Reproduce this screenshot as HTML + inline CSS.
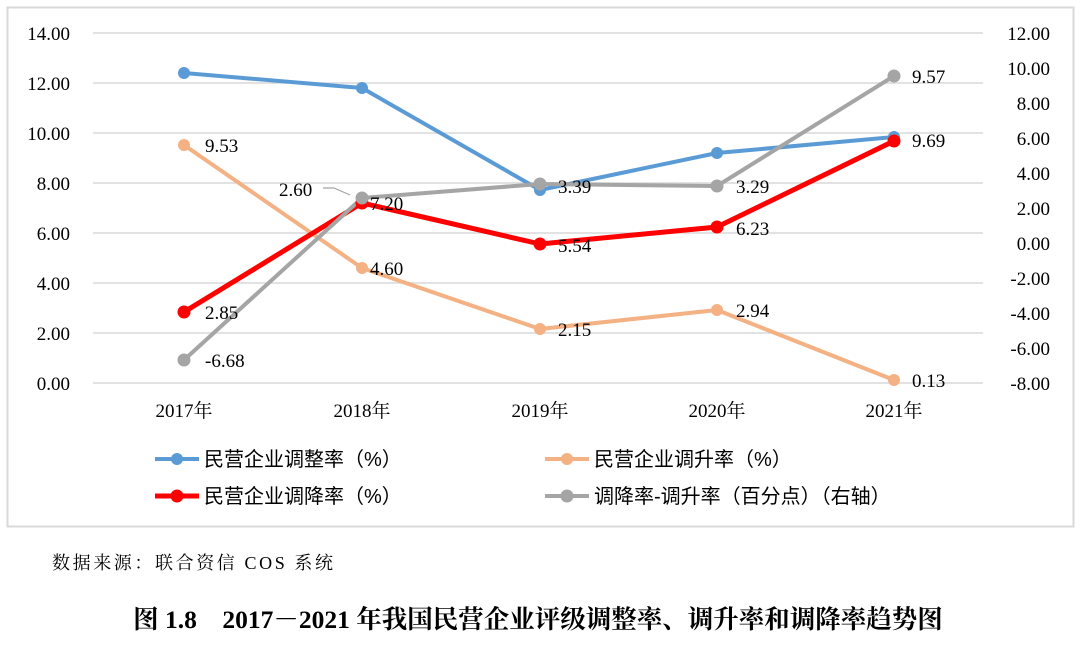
<!DOCTYPE html><html><head><meta charset="utf-8"><style>body{margin:0;background:#fff;width:1080px;height:640px;overflow:hidden}</style></head><body>
<svg width="1080" height="640" xmlns="http://www.w3.org/2000/svg" font-family="'Liberation Serif','Noto Serif CJK SC',serif">
<rect x="7.5" y="7.5" width="1066" height="519" fill="#fff" stroke="#d9d9d9" stroke-width="2"/>
<g stroke="#d9d9d9" stroke-width="1.5">
<line x1="93" x2="983" y1="33" y2="33"/><line x1="93" x2="983" y1="83" y2="83"/><line x1="93" x2="983" y1="133" y2="133"/><line x1="93" x2="983" y1="183" y2="183"/><line x1="93" x2="983" y1="233" y2="233"/><line x1="93" x2="983" y1="283" y2="283"/><line x1="93" x2="983" y1="333" y2="333"/><line x1="93" x2="983" y1="383" y2="383"/>
</g>
<g font-size="19" fill="#000" text-anchor="end">
<text x="70" y="40">14.00</text><text x="70" y="90">12.00</text><text x="70" y="140">10.00</text><text x="70" y="190">8.00</text><text x="70" y="240">6.00</text><text x="70" y="290">4.00</text><text x="70" y="340">2.00</text><text x="70" y="390">0.00</text>
</g>
<g font-size="19" fill="#000" text-anchor="end">
<text x="1050" y="40">12.00</text><text x="1050" y="75">10.00</text><text x="1050" y="110">8.00</text><text x="1050" y="145">6.00</text><text x="1050" y="180">4.00</text><text x="1050" y="215">2.00</text><text x="1050" y="250">0.00</text><text x="1050" y="285">-2.00</text><text x="1050" y="320">-4.00</text><text x="1050" y="355">-6.00</text><text x="1050" y="390">-8.00</text>
</g>
<g font-size="19" text-anchor="middle"><text x="184" y="417">2017年</text><text x="362" y="417">2018年</text><text x="540" y="417">2019年</text><text x="717" y="417">2020年</text><text x="894" y="417">2021年</text></g>
<g stroke-width="4" fill="none" stroke-linejoin="round">
<polyline stroke="#5b9bd5" points="184,73 362,88 540,190 717,153 894,137"/>
<polyline stroke="#f4b183" points="184,145 362,268 540,329 717,310 894,380"/>
<polyline stroke="#ff0000" stroke-width="5" points="184,312 362,203 540,244 717,227 894,141"/>
<polyline stroke="#a5a5a5" points="184,360 362,198 540,184 717,186 894,76"/>
</g>
<g fill="#5b9bd5"><circle cx="184" cy="73" r="6"/><circle cx="362" cy="88" r="6"/><circle cx="540" cy="190" r="6"/><circle cx="717" cy="153" r="6"/><circle cx="894" cy="137" r="6"/></g>
<g fill="#f4b183"><circle cx="184" cy="145" r="6"/><circle cx="362" cy="268" r="6"/><circle cx="540" cy="329" r="6"/><circle cx="717" cy="310" r="6"/><circle cx="894" cy="380" r="6"/></g>
<g fill="#ff0000"><circle cx="184" cy="312" r="6.5"/><circle cx="362" cy="203" r="6.5"/><circle cx="540" cy="244" r="6.5"/><circle cx="717" cy="227" r="6.5"/><circle cx="894" cy="141" r="6.5"/></g>
<g fill="#a5a5a5"><circle cx="184" cy="360" r="6.5"/><circle cx="362" cy="198" r="6.5"/><circle cx="540" cy="184" r="6.5"/><circle cx="717" cy="186" r="6.5"/><circle cx="894" cy="76" r="6.5"/></g>
<polyline points="323,188 334,188 350,195" stroke="#a5a5a5" stroke-width="1.2" fill="none"/>
<g font-size="19" fill="#000">
<text x="205" y="152">9.53</text><text x="205" y="319">2.85</text><text x="205" y="367">-6.68</text>
<text x="279" y="196">2.60</text><text x="370" y="210">7.20</text><text x="370" y="275">4.60</text>
<text x="558" y="193">3.39</text><text x="558" y="252">5.54</text><text x="558" y="336">2.15</text>
<text x="736" y="193">3.29</text><text x="736" y="235">6.23</text><text x="736" y="317">2.94</text>
<text x="912" y="83">9.57</text><text x="912" y="147">9.69</text><text x="912" y="387">0.13</text>
</g>
<g font-size="20" font-family="'Liberation Sans','Noto Sans CJK SC',sans-serif">
<line x1="155" x2="199" y1="459" y2="459" stroke="#5b9bd5" stroke-width="4"/><circle cx="177" cy="459" r="6" fill="#5b9bd5"/><text x="204" y="466">民营企业调整率（%）</text>
<line x1="545" x2="589" y1="459" y2="459" stroke="#f4b183" stroke-width="4"/><circle cx="567" cy="459" r="6" fill="#f4b183"/><text x="594" y="466">民营企业调升率（%）</text>
<line x1="155" x2="199" y1="496" y2="496" stroke="#ff0000" stroke-width="5"/><circle cx="177" cy="496" r="6.5" fill="#ff0000"/><text x="204" y="503">民营企业调降率（%）</text>
<line x1="545" x2="589" y1="496" y2="496" stroke="#a5a5a5" stroke-width="4"/><circle cx="567" cy="496" r="6.5" fill="#a5a5a5"/><text x="594" y="503">调降率-调升率（百分点）（右轴）</text>
</g>
<text x="52" y="569" font-size="18" letter-spacing="2.6">数据来源：联合资信 COS 系统</text>
<text x="538" y="628" font-size="25.5" font-weight="bold" text-anchor="middle">图 1.8　2017－2021 年我国民营企业评级调整率、调升率和调降率趋势图</text>
</svg>
</body></html>
